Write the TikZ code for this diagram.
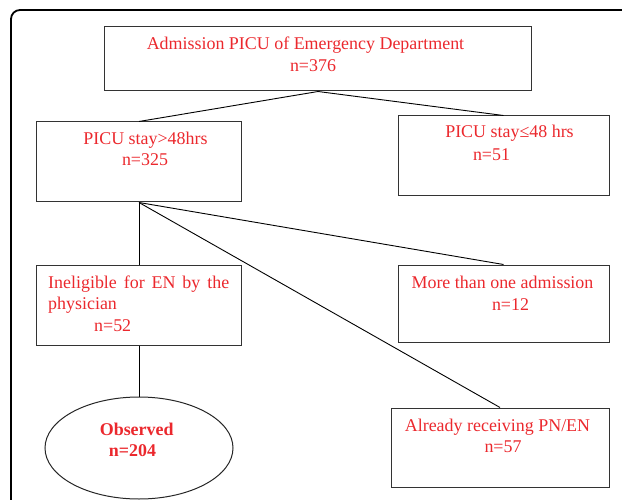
\documentclass[tikz,border=0pt]{standalone}
\usepackage{fontspec}
\setmainfont{Liberation Serif}
\usetikzlibrary{shapes.geometric}
\definecolor{txtred}{RGB}{235,40,45}
\begin{document}
\begin{tikzpicture}[x=1bp,y=-1bp,
  frameline/.style={draw=black,line width=1.8bp,rounded corners=9bp},
  box/.style={draw=black!80,line width=1bp,rectangle,inner sep=0pt,fill=none},
  oval/.style={draw=black!85,line width=1bp,ellipse,inner sep=0pt},
  lbl/.style={text=txtred,font=\fontsize{18}{21.5}\selectfont,inner sep=0pt,anchor=base},
  lblw/.style={lbl,anchor=base west},
  link/.style={draw=black,line width=0.9bp}]
\useasboundingbox (0,0) rectangle (622,500);
\clip (0,0) rectangle (622,500);
\draw[frameline] (11,530) -- (11,10) -- (660,10);
% boxes
\node[box,minimum width=426bp,minimum height=64bp] (adm) at (318,59) {};
\node[box,minimum width=204bp,minimum height=80bp] (long) at (139,162) {};
\node[box,minimum width=211bp,minimum height=80bp] (short) at (503.5,156) {};
\node[box,minimum width=204bp,minimum height=80bp] (inel) at (139,305) {};
\node[box,minimum width=211bp,minimum height=77bp] (more) at (503.5,303.5) {};
\node[box,minimum width=218bp,minimum height=79bp] (already) at (500,447.5) {};
\node[oval,minimum width=188bp,minimum height=102bp] (obs) at (139,448) {};
% texts
\node[lbl] (admt) at (305.5,50) {Admission PICU of Emergency Department};
\node[lbl] (admn) at (313,72) {n=376};
\node[lbl] (longt) at (145.5,145) {PICU stay>48hrs};
\node[lbl] (longn) at (145,166) {n=325};
\node[lbl] (shortt) at (509.5,138) {PICU stay≤48 hrs};
\node[lbl] (shortn) at (491.5,161) {n=51};
\node[lblw] (inelt) at (48,288) {\makebox[181bp][s]{Ineligible for EN by the}};
\node[lblw] (inelp) at (48,309) {physician};
\node[lblw] (ineln) at (94,331) {n=52};
\node[lbl] (moret) at (502.5,288) {More than one admission};
\node[lbl] (moren) at (510.5,310) {n=12};
\node[lbl] (alrt) at (497.5,431.5) {Already receiving PN/EN};
\node[lbl] (alrn) at (503,452) {n=57};
\node[lbl,font=\fontsize{18}{21.5}\selectfont\bfseries] (obst) at (136.7,435) {Observed};
\node[lbl,font=\fontsize{18}{21.5}\selectfont\bfseries] (obsn) at (132.5,456.5) {n=204};
% connectors
\draw[link] (adm.south) -- (long.north);
\draw[link] (adm.south) -- (short.north);
\draw[link] (long.south) -- (inel.north);
\draw[link] (long.south) -- (more.north);
\draw[link] (long.south) -- (already.north);
\draw[link] (inel.south) -- (obs.north);
\end{tikzpicture}
\end{document}
